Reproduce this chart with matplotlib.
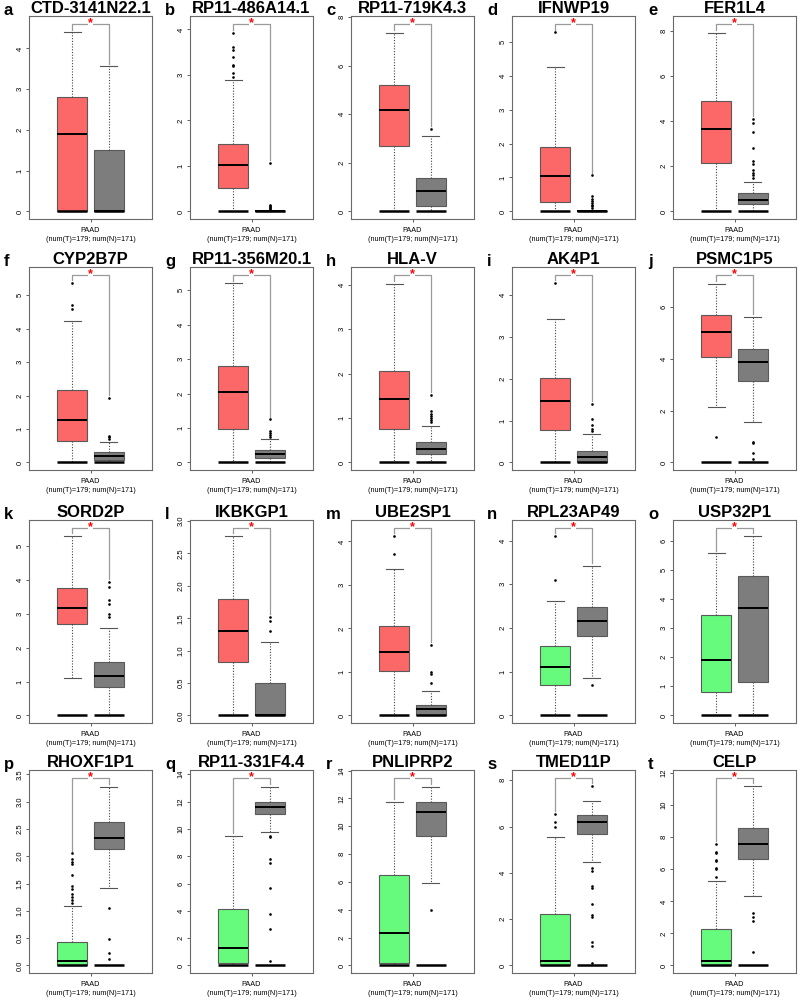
import matplotlib
matplotlib.use('Agg')
import matplotlib.pyplot as plt
import numpy as np

plt.rcParams['font.family'] = ['Liberation Sans', 'DejaVu Sans']

# panel data, tumour first, normal second
letters = list('abcdefghijklmnopqrst')
genes = ['CTD-3141N22.1', 'RP11-486A14.1', 'RP11-719K4.3', 'IFNWP19', 'FER1L4',
         'CYP2B7P', 'RP11-356M20.1', 'HLA-V', 'AK4P1', 'PSMC1P5',
         'SORD2P', 'IKBKGP1', 'UBE2SP1', 'RPL23AP49', 'USP32P1',
         'RHOXF1P1', 'RP11-331F4.4', 'PNLIPRP2', 'TMED11P', 'CELP']
tumor_up = [True] * 13 + [False] * 7

t_q1 = [0, 0.52, 2.71, 0.29, 2.15, 0.63, 0.97, 0.75, 0.78, 4.05,
        2.69, 0.83, 1.02, 0.70, 0.81, 0.01, 0.15, 0.19, 0.01, 0.02]
t_med = [1.91, 1.02, 4.19, 1.05, 3.65, 1.28, 2.05, 1.42, 1.46, 5.01,
         3.18, 1.31, 1.45, 1.11, 1.91, 0.08, 1.29, 2.34, 0.20, 0.27]
t_q3 = [2.81, 1.48, 5.19, 1.90, 4.88, 2.18, 2.79, 2.06, 2.03, 5.68,
        3.77, 1.80, 2.06, 1.58, 3.46, 0.43, 4.12, 6.50, 2.24, 2.25]
t_lo = [0, 0, 0, 0, 0, 0, 0, 0, 0, 2.15,
        1.12, 0, 0, 0, 0, 0, 0, 0, 0, 0]
t_hi = [4.39, 2.88, 7.37, 4.25, 7.90, 4.24, 5.19, 4.02, 3.42, 6.88,
        5.30, 2.77, 3.36, 2.62, 5.56, 1.085, 9.49, 11.77, 5.53, 5.30]
t_out = [[], [2.95, 3.05, 3.2, 3.22, 3.4, 3.55, 3.62, 3.93], [], [5.27], [],
         [4.6, 4.7, 5.38], [], [], [4.28], [0.99],
         [], [], [3.72, 4.13], [3.1, 4.1], [],
         [1.15, 1.2, 1.25, 1.3, 1.4, 1.45, 1.65, 1.85, 1.9, 1.95, 2.05], [], [],
         [6.0, 6.2, 6.55], [5.5, 6.0, 6.1, 6.5, 6.6, 7.0, 7.1, 7.6]]

n_q1 = [0, 0, 0.22, 0, 0.32, 0.08, 0.12, 0.19, 0.0, 3.15,
        0.85, 0, 0, 1.82, 1.16, 2.13, 11.07, 9.28, 5.66, 6.65]
n_med = [0, 0, 0.84, 0, 0.51, 0.19, 0.24, 0.30, 0.13, 3.88,
         1.17, 0, 0.14, 2.17, 3.68, 2.34, 11.6, 11.0, 6.2, 7.55]
n_q3 = [1.52, 0, 1.38, 0, 0.82, 0.31, 0.36, 0.46, 0.28, 4.36,
        1.57, 0.5, 0.23, 2.49, 4.79, 2.62, 12.0, 11.77, 6.48, 8.59]
n_lo = [0, 0, 0, 0, 0, 0, 0, 0, 0, 1.55,
        0, 0, 0, 0.85, 0, 1.42, 9.76, 5.93, 4.47, 4.35]
n_hi = [3.56, 0, 3.11, 0, 1.29, 0.62, 0.68, 0.83, 0.68, 5.62,
        2.58, 1.13, 0.57, 3.43, 6.16, 3.27, 13.05, 12.8, 7.11, 11.19]
n_out = [[], [0.05, 0.08, 0.1, 0.12, 0.15, 1.07], [3.40],
         [0.1, 0.15, 0.2, 0.25, 0.3, 0.38, 0.45, 1.06],
         [1.5, 1.6, 1.7, 1.85, 2.1, 2.25, 2.8, 3.5, 3.9, 4.1],
         [0.7, 0.75, 0.8, 1.92], [0.75, 0.8, 0.85, 0.9, 1.25],
         [0.9, 0.95, 1.0, 1.05, 1.1, 1.15, 1.52], [0.75, 0.8, 0.9, 1.05, 1.4],
         [0.15, 0.35, 0.75, 0.8],
         [2.9, 3.0, 3.3, 3.4, 3.8, 3.95], [1.3, 1.45, 1.52], [0.75, 0.95, 1.0, 1.63],
         [0.7], [], [0.12, 0.22, 0.48, 1.05],
         [0.35, 2.7, 3.75, 5.7, 7.5, 7.8, 9.4, 9.5], [3.97],
         [0.1, 0.85, 1.0, 2.1, 2.2, 2.65, 3.35, 3.45, 4.1, 4.2, 7.75],
         [0.85, 2.8, 3.0, 3.3]]

bracket_y = [4.61, 4.13, 7.74, 5.53, 8.31, 5.62, 5.45, 4.23, 4.49, 7.24,
             5.55, 2.9, 4.32, 4.30, 6.45, 3.44, 13.76, 13.5, 8.12, 11.73]
tick_step = [1, 1, 2, 1, 2, 1, 1, 1, 1, 2,
             1, 0.5, 1, 1, 1, 0.5, 2, 2, 2, 2]

xlabel = 'PAAD\n(num(T)=179; num(N)=171)'
RED = '#fc6767'
GREEN = '#66fb7c'
GRAY = '#7d7d7d'

W, H = 800, 1002
fig = plt.figure(figsize=(W / 100, H / 100), dpi=100)
row_tops = [16, 267, 520, 770]
ax_w, ax_h = 123, 203
pos = [0.35, 0.65]
bw = 0.25

for i, gene in enumerate(genes):
    r, c = divmod(i, 5)
    left = 29 + 161 * c
    top = row_tops[r]
    ax = fig.add_axes([left / W, 1 - (top + ax_h) / H, ax_w / W, ax_h / H])

    stats = [
        dict(q1=t_q1[i], med=t_med[i], q3=t_q3[i], whislo=t_lo[i], whishi=t_hi[i], fliers=t_out[i]),
        dict(q1=n_q1[i], med=n_med[i], q3=n_q3[i], whislo=n_lo[i], whishi=n_hi[i], fliers=n_out[i]),
    ]
    bp = ax.bxp(stats, positions=pos, widths=bw, patch_artist=True, showfliers=True,
                capwidths=bw * 0.55,
                boxprops=dict(edgecolor='#5a5a5a', linewidth=0.8),
                whiskerprops=dict(color='#444444', linestyle=(0, (1, 1.5)), linewidth=0.8),
                capprops=dict(color='#555555', linewidth=0.8),
                medianprops=dict(color='black', linewidth=1.4),
                flierprops=dict(marker='o', markersize=0.9, markerfacecolor='black',
                                markeredgecolor='black', linestyle='none'))
    bp['boxes'][0].set_facecolor(RED if tumor_up[i] else GREEN)
    bp['boxes'][1].set_facecolor(GRAY)

    # thick line of zero values under each box
    for p in pos:
        ax.hlines(0, p - bw / 2, p + bw / 2, color='black', linewidth=1.8, zorder=3)

    # significance bracket
    by = bracket_y[i]
    gap = 0.015 * by
    t_max = max([t_hi[i]] + t_out[i])
    n_max = max([n_hi[i]] + n_out[i])
    ax.plot([pos[0], pos[0], pos[1], pos[1]], [t_max + gap, by, by, n_max + gap],
            color='#9a9a9a', linewidth=0.9, zorder=1)
    ax.text(0.5, by, '*', color='red', fontsize=9, ha='center', va='center',
            fontweight='bold', bbox=dict(facecolor='white', edgecolor='none', pad=0.3))

    ax.set_xlim(0, 1)
    ax.set_ylim(-0.04 * by, 1.04 * by)
    step = tick_step[i]
    ticks = np.arange(0, 1.04 * by, step)
    ax.set_yticks(ticks)
    if step < 1:
        ax.set_yticklabels([f'{v:.1f}' for v in ticks])
    ax.set_xticks([0.5])
    ax.set_xticklabels([xlabel], fontsize=5.2, linespacing=1.5)
    ax.tick_params(axis='y', labelsize=5.5, length=2.5, width=0.6, pad=1.5,
                   labelrotation=90, color='#444444')
    ax.tick_params(axis='x', length=2.5, width=0.6, pad=3, color='#444444')
    for lab in ax.get_yticklabels():
        lab.set_va('center')
    for s in ax.spines.values():
        s.set_color('#6a6a6a')
        s.set_linewidth(0.8)

    ax.set_title(gene, fontsize=12, fontweight='bold', pad=0.5)
    fig.text((left - 25) / W, 1 - (top - 1) / H, letters[i], fontsize=12,
             fontweight='bold', ha='left', va='baseline')

fig.savefig('out.png', dpi=100)
